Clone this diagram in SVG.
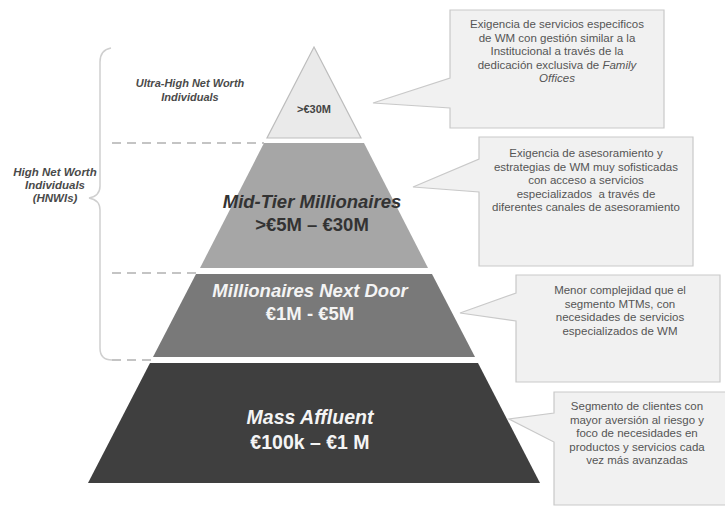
<svg xmlns="http://www.w3.org/2000/svg" width="725" height="508" viewBox="0 0 725 508">
<style>
.callout{fill:#f1f1f1;stroke:#c9c9c9;stroke-width:1.2}
.ct{font-family:"Liberation Sans",Arial,sans-serif;font-size:11.5px;fill:#555;text-anchor:middle}
.lab{font-family:"Liberation Sans",Arial,sans-serif;font-weight:bold;font-style:italic;fill:#4a4a4a;text-anchor:middle}
.big{font-family:"Liberation Sans",Arial,sans-serif;font-weight:bold;text-anchor:middle}
.dash{stroke:#c4c4c4;stroke-width:2;stroke-dasharray:9,6;fill:none}
</style>
<rect width="725" height="508" fill="#fff"/>
<g id="connectors">
<path d="M111,48 Q100,50 100,62 L100,186 Q100,196 89,198 Q100,200 100,210 L100,348 Q100,360 112,360" fill="none" stroke="#cfcfcf" stroke-width="1.5"/>
<line class="dash" x1="112" y1="143" x2="264" y2="143"/>
<line class="dash" x1="112" y1="273" x2="197" y2="273"/>
<line class="dash" x1="112" y1="360" x2="152" y2="360"/>
</g>
<g id="labels-left">
<text class="lab" font-size="11" x="190" y="87">Ultra-High Net Worth</text>
<text class="lab" font-size="11" x="190" y="101">Individuals</text>
<text class="lab" font-size="11.5" x="55" y="176">High Net Worth</text>
<text class="lab" font-size="11.5" x="55" y="189">Individuals</text>
<text class="lab" font-size="11.5" x="55" y="202">(HNWIs)</text>
</g>
<g id="uhnwi">
<polygon points="314,47 361,138 267,138" fill="#eaeaea" stroke="#bdbdbd" stroke-width="1.2"/>
<text class="big" x="314" y="113" font-size="11" fill="#444">&gt;€30M</text>
</g>
<g id="mid-tier">
<polygon points="264,143 364,143 428,268 200,268" fill="#a6a6a6"/>
<text class="big" x="312" y="208" font-size="18.5" font-style="italic" fill="#333">Mid-Tier Millionaires</text>
<text class="big" x="312" y="231" font-size="18.5" fill="#333">&gt;€5M – €30M</text>
</g>
<g id="next-door">
<polygon points="196,274 432,274 475,357 153,357" fill="#797979"/>
<text class="big" x="310" y="297" font-size="18.5" font-style="italic" fill="#f4f4f4">Millionaires Next Door</text>
<text class="big" x="310" y="320" font-size="18.5" fill="#f4f4f4">€1M - €5M</text>
</g>
<g id="mass-affluent">
<polygon points="150,363 478,363 540,483 88,483" fill="#3f3f3f"/>
<text class="big" x="310" y="424" font-size="19.5" font-style="italic" fill="#f4f4f4">Mass Affluent</text>
<text class="big" x="310" y="449" font-size="19.5" fill="#f4f4f4">€100k – €1 M</text>
</g>
<g id="callout1">
<path class="callout" d="M450,10 H664 V128 H450 V108 L373,103 L450,78 Z"/>
<text class="ct" x="557" y="28">Exigencia de servicios especificos</text>
<text class="ct" x="557" y="41.5">de WM con gestión similar a la</text>
<text class="ct" x="557" y="55">Institucional a través de la</text>
<text class="ct" x="557" y="68.5">dedicación exclusiva de <tspan font-style="italic">Family</tspan></text>
<text class="ct" x="557" y="82" font-style="italic">Offices</text>
</g>
<g id="callout2">
<path class="callout" d="M479,137 H693 V266 H479 V192 L413,187 L479,159 Z"/>
<text class="ct" x="586" y="157">Exigencia de asesoramiento y</text>
<text class="ct" x="586" y="170.5">estrategias de WM muy sofisticadas</text>
<text class="ct" x="586" y="184">con acceso a servicios</text>
<text class="ct" x="586" y="197.5">especializados&#160; a través de</text>
<text class="ct" x="586" y="211">diferentes canales de asesoramiento</text>
</g>
<g id="callout3">
<path class="callout" d="M516,275 H720 V382 H516 V321 L460,313 L516,293 Z"/>
<text class="ct" x="620" y="294">Menor complejidad que el</text>
<text class="ct" x="620" y="307.5">segmento MTMs, con</text>
<text class="ct" x="620" y="321">necesidades de servicios</text>
<text class="ct" x="620" y="334.5">especializados de WM</text>
</g>
<g id="callout4">
<path class="callout" d="M554,392 H730 V505 H554 V442 L509,419 L554,413 Z"/>
<text class="ct" x="637" y="410">Segmento de clientes con</text>
<text class="ct" x="637" y="423.5">mayor aversión al riesgo y</text>
<text class="ct" x="637" y="437">foco de necesidades en</text>
<text class="ct" x="637" y="450.5">productos y servicios cada</text>
<text class="ct" x="637" y="464">vez más avanzadas</text>
</g>
</svg>
